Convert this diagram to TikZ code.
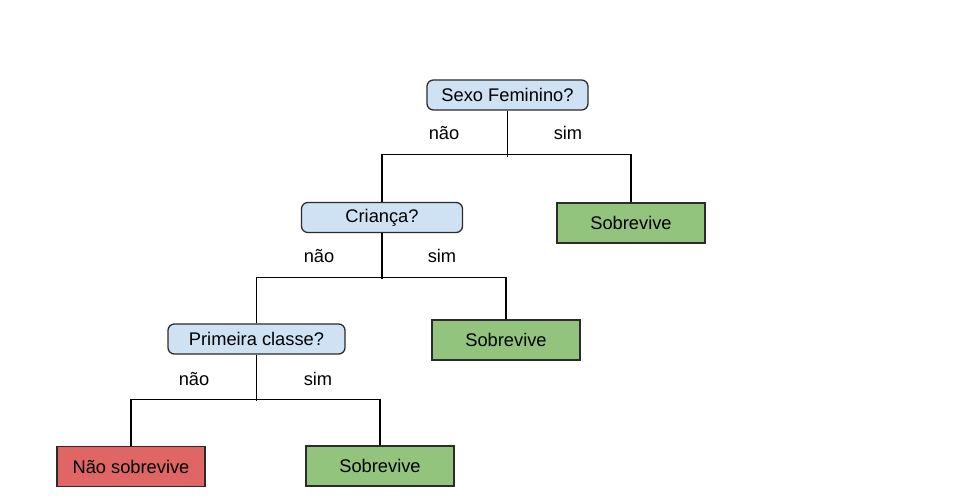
\documentclass[tikz,border=0pt]{standalone}
\usepackage{fontspec}
\setmainfont{Liberation Sans}
\usetikzlibrary{positioning}
\definecolor{perguntaazul}{HTML}{CFE2F3}
\definecolor{simverde}{HTML}{93C47D}
\definecolor{naovermelho}{HTML}{E06666}
\definecolor{borda}{HTML}{2B2B2B}
\begin{document}
\begin{tikzpicture}[x=0.025cm,y=-0.025cm,
    pergunta/.style={draw=borda,line width=0.9pt,fill=perguntaazul,rounded corners=1.6mm,minimum height=0.75cm,inner sep=0pt},
    folha/.style={draw=borda,line width=0.9pt,minimum width=3.7cm,minimum height=1cm,inner sep=0pt},
    ramo/.style={draw=black,line width=0.9pt},
    rotulo/.style={inner sep=0pt}]
    \useasboundingbox (0,0) rectangle (956,500);
    \fontsize{13}{15}\selectfont
    %% perguntas
    \node (sexo) at (507.5,95)[pergunta,minimum width=4.025cm]{Sexo Feminino?};
    \node (crianca) at (382,217.5)[pergunta,minimum width=4.025cm]{Criança?};
    \node (primeira) at (256.5,339)[pergunta,minimum width=4.425cm]{Primeira classe?};
    %% folhas
    \node (sobrevA) at (631,223)[folha,fill=simverde]{Sobrevive};
    \node (sobrevB) at (506,340)[folha,fill=simverde]{Sobrevive};
    \node (naosobrev) at (131,466.5)[folha,fill=naovermelho]{Não sobrevive};
    \node (sobrevC) at (380,466)[folha,fill=simverde]{Sobrevive};
    %% ramos
    \draw[ramo] (sexo.south) -- ++(0,46);
    \draw[ramo] (crianca.north) -- ++(0,-47) -| (sobrevA.north);
    \draw[ramo] (crianca.south) -- ++(0,46);
    \draw[ramo] (primeira.north) -- ++(0,-46) -| (sobrevB.north);
    \draw[ramo] (primeira.south) -- ++(0,46);
    \draw[ramo] (naosobrev.north) -- ++(0,-46) -| (sobrevC.north);
    %% rotulos
    \node (naoA) at (444,133)[rotulo]{não};
    \node (simA) at (568,133)[rotulo]{sim};
    \node (naoB) at (319,256)[rotulo]{não};
    \node (simB) at (442,256)[rotulo]{sim};
    \node (naoC) at (194,379)[rotulo]{não};
    \node (simC) at (318,379)[rotulo]{sim};
\end{tikzpicture}
\end{document}
